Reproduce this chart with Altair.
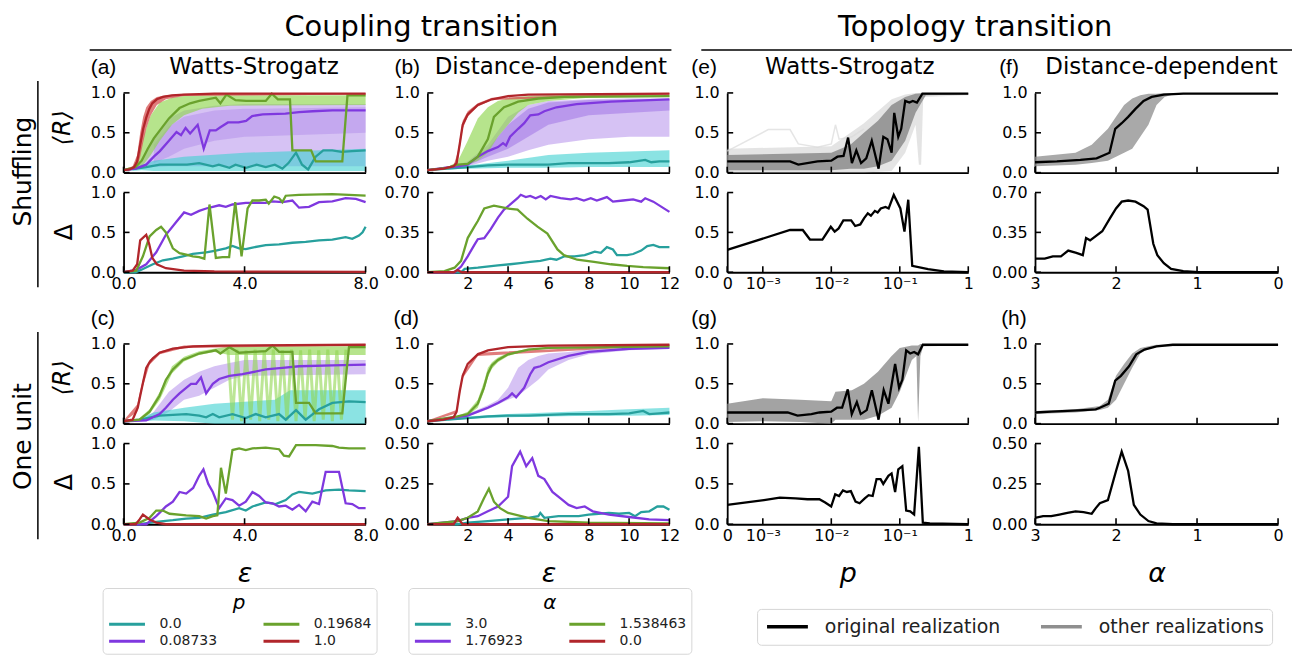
import altair as alt
import pandas as pd

# ============================ DATA ============================
# legend orders (Vega fills a 2-column vertical legend column by column)
P_ORDER = ["0.0", "0.08733", "0.19684", "1.0"]
A_ORDER = ["3.0", "1.76923", "1.538463", "0.0"]
REAL_ORDER = ["original realization", "other realizations"]

# ---------- (a) Shuffling, Watts-Strogatz, coupling:  <R> ----------
a_R_red = [(0, 0.03), (0.2, 0.04), (0.35, 0.07), (0.45, 0.14), (0.55, 0.35), (0.65, 0.55), (0.75, 0.69),
           (0.85, 0.8), (0.95, 0.87), (1.1, 0.92), (1.3, 0.95), (1.6, 0.97), (2.0, 0.98), (3.0, 0.99), (8.0, 0.99)]
a_R_green = [(0, 0.03), (0.4, 0.07), (0.6, 0.15), (0.8, 0.3), (1.0, 0.43), (1.2, 0.53), (1.5, 0.68), (1.85, 0.81),
             (2.2, 0.87), (2.5, 0.9), (3.05, 0.94), (3.2, 0.87), (3.4, 0.98), (3.7, 0.91), (4.05, 0.9), (4.4, 0.9),
             (4.7, 0.9), (4.9, 0.99), (5.1, 0.92), (5.5, 0.92), (5.58, 0.28), (6.2, 0.28), (6.35, 0.14),
             (7.23, 0.14), (7.4, 0.97), (8.0, 0.97)]
a_R_purple = [(0, 0.03), (0.4, 0.05), (0.75, 0.1), (1.0, 0.2), (1.2, 0.27), (1.5, 0.4), (1.75, 0.51), (1.9, 0.47),
              (2.05, 0.56), (2.2, 0.49), (2.45, 0.6), (2.65, 0.3), (2.85, 0.53), (3.05, 0.53), (3.2, 0.57),
              (3.45, 0.63), (3.8, 0.63), (4.05, 0.65), (4.25, 0.71), (4.6, 0.73), (5.35, 0.74), (5.8, 0.76),
              (6.25, 0.77), (6.9, 0.78), (8.0, 0.78)]
a_R_teal = [(0, 0.03), (0.4, 0.05), (0.75, 0.07), (1.2, 0.1), (1.6, 0.1), (2.1, 0.1), (2.5, 0.12), (2.95, 0.08),
            (3.15, 0.1), (3.5, 0.06), (3.7, 0.1), (4.05, 0.06), (4.4, 0.1), (4.7, 0.07), (5.0, 0.1), (5.25, 0.05),
            (5.45, 0.12), (5.7, 0.25), (5.9, 0.1), (6.1, 0.04), (6.35, 0.2), (6.6, 0.28), (6.9, 0.28),
            (7.2, 0.26), (7.55, 0.27), (8.0, 0.28)]
a_R_red_band = [(0, 0.02, 0.04), (0.3, 0.04, 0.08), (0.45, 0.08, 0.22), (0.55, 0.2, 0.5), (0.65, 0.38, 0.7),
                (0.75, 0.55, 0.82), (0.9, 0.72, 0.9), (1.1, 0.85, 0.95), (1.4, 0.92, 0.97), (2.0, 0.96, 0.99),
                (8.0, 0.98, 1.0)]
a_R_green_band = [(0.3, 0.04, 0.06), (0.5, 0.06, 0.2), (0.7, 0.12, 0.5), (0.9, 0.22, 0.72), (1.2, 0.4, 0.88),
                  (1.6, 0.6, 0.94), (2.0, 0.72, 0.96), (2.6, 0.8, 0.97), (3.5, 0.84, 0.97), (8.0, 0.85, 0.97)]
a_R_purple_band = [(0.4, 0.04, 0.07), (0.7, 0.06, 0.25), (1.0, 0.07, 0.45), (1.5, 0.08, 0.68), (2.0, 0.08, 0.78),
                   (3.0, 0.08, 0.84), (4.0, 0.08, 0.86), (8.0, 0.08, 0.86)]
a_R_purple_core = [(1.0, 0.12, 0.35), (1.5, 0.2, 0.58), (2.0, 0.3, 0.7), (3.0, 0.4, 0.78), (4.0, 0.45, 0.8),
                   (8.0, 0.5, 0.82)]
a_R_teal_band = [(0.3, 0.02, 0.05), (0.6, 0.03, 0.1), (1.0, 0.02, 0.15), (2.0, 0.02, 0.2), (4.0, 0.02, 0.25),
                 (8.0, 0.02, 0.3)]
# ---------- (a) Delta ----------
a_D_red = [(0, 0), (0.3, 0.02), (0.45, 0.1), (0.55, 0.4), (0.75, 0.47), (0.85, 0.35), (0.95, 0.18), (1.1, 0.1),
           (1.4, 0.05), (2.0, 0.02), (3.0, 0.01), (8.0, 0.005)]
a_D_green = [(0, 0), (0.42, 0.02), (0.64, 0.2), (0.86, 0.45), (1.08, 0.53), (1.24, 0.57), (1.4, 0.5), (1.63, 0.3),
             (1.85, 0.24), (2.07, 0.22), (2.29, 0.2), (2.5, 0.19), (2.67, 0.17), (2.84, 0.85), (3.05, 0.18),
             (3.27, 0.19), (3.49, 0.19), (3.69, 0.88), (3.9, 0.2), (4.1, 0.8), (4.26, 0.9), (4.48, 0.9),
             (4.7, 0.91), (4.8, 0.86), (4.98, 0.95), (5.14, 0.93), (5.25, 0.88), (5.36, 0.96), (5.8, 0.97),
             (6.9, 0.98), (8.0, 0.96)]
a_D_purple = [(0, 0), (0.42, 0.03), (0.75, 0.1), (1.08, 0.25), (1.4, 0.47), (1.74, 0.63), (2.0, 0.75),
              (2.23, 0.72), (2.5, 0.77), (2.73, 0.8), (2.95, 0.82), (3.16, 0.84), (3.38, 0.82), (3.6, 0.85),
              (4.04, 0.87), (4.7, 0.87), (4.92, 0.89), (5.25, 0.88), (5.58, 0.9), (5.8, 0.81), (6.13, 0.82),
              (6.46, 0.88), (6.9, 0.89), (7.34, 0.93), (7.68, 0.92), (8.0, 0.88)]
a_D_teal = [(0, 0), (0.4, 0.0), (0.64, 0.04), (0.97, 0.1), (1.3, 0.15), (1.63, 0.17), (1.96, 0.2), (2.29, 0.23),
            (2.73, 0.25), (3.05, 0.27), (3.38, 0.3), (3.6, 0.33), (3.82, 0.3), (4.04, 0.29), (4.26, 0.31),
            (4.7, 0.34), (5.14, 0.35), (5.58, 0.37), (6.02, 0.38), (6.46, 0.4), (6.9, 0.41), (7.34, 0.44),
            (7.56, 0.42), (7.78, 0.46), (7.9, 0.5), (8.0, 0.57)]

# ---------- (b) Shuffling, distance-dependent, coupling: <R> ----------
b_R_red = [(0, 0.03), (0.8, 0.05), (1.3, 0.08), (1.45, 0.12), (1.6, 0.35), (1.75, 0.6), (2.0, 0.73), (2.5, 0.85),
           (3.2, 0.92), (4.0, 0.96), (5.0, 0.98), (12, 0.99)]
b_R_green = [(0, 0.03), (1.0, 0.06), (1.5, 0.1), (2.0, 0.11), (2.5, 0.2), (3.0, 0.42), (3.3, 0.7), (3.8, 0.82),
             (4.5, 0.89), (5.5, 0.93), (6.8, 0.95), (12, 0.96)]
b_R_purple = [(0, 0.03), (1.5, 0.08), (2.0, 0.1), (2.5, 0.2), (3.0, 0.27), (3.5, 0.32), (3.75, 0.37), (3.9, 0.34),
              (4.1, 0.45), (4.5, 0.55), (4.8, 0.62), (5.1, 0.72), (5.5, 0.73), (5.8, 0.77), (6.4, 0.82),
              (7.4, 0.86), (9.1, 0.89), (12, 0.92)]
b_R_teal = [(0, 0.03), (1, 0.05), (2, 0.07), (3, 0.09), (4, 0.1), (5, 0.1), (6, 0.1), (7, 0.12), (8, 0.12),
            (9, 0.12), (10, 0.13), (10.8, 0.16), (11.1, 0.13), (11.5, 0.14), (12, 0.14)]
b_R_red_band = [(0, 0.02, 0.04), (1.3, 0.07, 0.09), (1.5, 0.12, 0.25), (1.75, 0.55, 0.65), (2.0, 0.7, 0.77),
                (2.5, 0.83, 0.87), (3.2, 0.91, 0.94), (12, 0.98, 1.0)]
b_R_green_band = [(1.0, 0.05, 0.07), (1.5, 0.08, 0.14), (2.0, 0.1, 0.4), (2.5, 0.15, 0.68), (3.0, 0.25, 0.82),
                  (3.5, 0.45, 0.9), (4.0, 0.6, 0.93), (4.5, 0.75, 0.95), (5.0, 0.85, 0.96), (6.0, 0.9, 0.97),
                  (8.0, 0.94, 0.97), (12, 0.95, 0.97)]
b_R_purple_band = [(1.5, 0.06, 0.1), (2.0, 0.08, 0.14), (3.0, 0.15, 0.35), (4.0, 0.2, 0.7), (5.0, 0.28, 0.85),
                   (6.0, 0.35, 0.9), (8.0, 0.42, 0.92), (10.0, 0.45, 0.93), (12, 0.45, 0.93)]
b_R_purple_core = [(2.0, 0.09, 0.12), (3.0, 0.2, 0.3), (4.0, 0.3, 0.6), (5.0, 0.45, 0.8), (6.0, 0.6, 0.88),
                   (8.0, 0.72, 0.91), (12, 0.78, 0.92)]
b_R_teal_band = [(1.0, 0.04, 0.06), (2.0, 0.05, 0.09), (4.0, 0.06, 0.15), (6.0, 0.06, 0.22), (8.0, 0.07, 0.25),
                 (12, 0.07, 0.28)]
# ---------- (b) Delta ----------
b_D_red = [(0, 0), (1.3, 0.0), (1.5, 0.02), (1.7, 0.0), (12, 0.0)]
b_D_green = [(0, 0), (0.85, 0.01), (1.35, 0.04), (1.67, 0.1), (2.0, 0.3), (2.33, 0.4), (2.5, 0.45), (2.82, 0.56),
             (3.3, 0.585), (3.97, 0.56), (4.47, 0.55), (4.96, 0.47), (5.46, 0.4), (5.95, 0.34), (6.45, 0.2),
             (6.77, 0.15), (7.43, 0.11), (8.26, 0.09), (9.1, 0.07), (9.9, 0.055), (10.7, 0.045), (12, 0.035)]
b_D_purple = [(0, 0), (1.35, 0.0), (1.67, 0.05), (2.0, 0.14), (2.33, 0.24), (2.5, 0.29), (2.82, 0.3), (3.15, 0.38),
              (3.5, 0.48), (3.8, 0.55), (4.14, 0.6), (4.47, 0.65), (4.63, 0.68), (4.88, 0.66), (5.1, 0.67),
              (5.37, 0.65), (5.62, 0.67), (5.87, 0.64), (6.1, 0.67), (6.6, 0.65), (7.1, 0.64), (7.4, 0.65),
              (7.76, 0.63), (8.1, 0.65), (8.4, 0.63), (8.9, 0.66), (9.2, 0.62), (9.7, 0.63), (10.2, 0.64),
              (10.6, 0.62), (10.8, 0.65), (11.2, 0.62), (12, 0.53)]
b_D_teal = [(0, 0), (1.67, 0.0), (1.85, 0.03), (2.5, 0.04), (3.5, 0.06), (4.1, 0.07), (4.6, 0.08), (5.1, 0.09),
            (5.6, 0.1), (6.1, 0.12), (6.4, 0.11), (6.8, 0.14), (7.3, 0.14), (7.8, 0.15), (8.3, 0.18), (8.6, 0.17),
            (8.9, 0.22), (9.2, 0.2), (9.4, 0.15), (9.9, 0.15), (10.2, 0.16), (10.6, 0.19), (10.9, 0.23),
            (11.2, 0.24), (11.5, 0.22), (12, 0.22)]

# ---------- (c) One unit, Watts-Strogatz, coupling: <R> ----------
c_R_red = [(0, 0.03), (0.3, 0.05), (0.47, 0.2), (0.55, 0.35), (0.64, 0.51), (0.75, 0.7), (0.86, 0.77),
           (0.97, 0.82), (1.19, 0.89), (1.63, 0.94), (2.3, 0.97), (3.2, 0.98), (8, 0.99)]
c_R_green = [(0, 0.03), (0.53, 0.05), (0.86, 0.15), (1.19, 0.35), (1.4, 0.55), (1.63, 0.68), (1.96, 0.8),
             (2.5, 0.88), (3.05, 0.92), (3.2, 0.88), (3.5, 0.96), (3.82, 0.89), (4.26, 0.9), (4.7, 0.91),
             (4.92, 0.98), (5.14, 0.9), (5.58, 0.9), (5.7, 0.26), (6.13, 0.26), (6.35, 0.13), (7.23, 0.13),
             (7.45, 0.96), (8, 0.96)]
c_R_green_zigzag = [(3.45, 0.93), (3.6, 0.05), (3.75, 0.93), (3.9, 0.03), (4.05, 0.92), (4.2, 0.05), (4.35, 0.93),
                    (4.5, 0.03), (4.65, 0.92), (4.8, 0.05), (4.95, 0.93), (5.1, 0.03), (5.25, 0.92), (5.4, 0.04),
                    (5.55, 0.93), (5.7, 0.03), (5.85, 0.92), (6.0, 0.05), (6.15, 0.93), (6.3, 0.03), (6.45, 0.92),
                    (6.6, 0.05), (6.75, 0.93), (6.9, 0.03), (7.05, 0.92), (7.2, 0.05), (7.35, 0.93)]
c_R_purple = [(0, 0.03), (0.75, 0.04), (1.19, 0.12), (1.4, 0.2), (1.63, 0.3), (1.85, 0.38), (2.07, 0.45),
              (2.23, 0.5), (2.4, 0.5), (2.56, 0.58), (2.73, 0.38), (2.95, 0.5), (3.16, 0.56), (3.5, 0.6),
              (3.93, 0.62), (4.7, 0.68), (5.25, 0.7), (5.8, 0.72), (6.9, 0.73), (8, 0.74)]
c_R_teal = [(0, 0.03), (0.53, 0.05), (1.19, 0.1), (2.07, 0.12), (2.5, 0.1), (2.73, 0.08), (2.95, 0.12),
            (3.16, 0.08), (3.6, 0.12), (4.04, 0.07), (4.37, 0.12), (4.7, 0.08), (5.14, 0.12), (5.36, 0.05),
            (5.7, 0.17), (6.02, 0.05), (6.46, 0.18), (6.9, 0.26), (7.45, 0.28), (8, 0.27)]
c_R_red_band = [(0, 0.02, 0.04), (0.45, 0.15, 0.24), (0.64, 0.47, 0.56), (0.86, 0.74, 0.8), (1.2, 0.87, 0.91),
                (2.0, 0.95, 0.98), (8, 0.98, 1.0)]
c_R_green_band = [(0.5, 0.04, 0.06), (0.86, 0.12, 0.18), (1.2, 0.3, 0.4), (1.6, 0.63, 0.72), (2.0, 0.78, 0.84),
                  (2.5, 0.86, 0.91), (3.0, 0.9, 0.94), (3.5, 0.86, 0.97), (8, 0.86, 0.97)]
c_R_purple_band = [(0.7, 0.03, 0.06), (1.0, 0.05, 0.15), (1.5, 0.15, 0.4), (2.0, 0.3, 0.55), (2.5, 0.35, 0.65),
                   (3.0, 0.45, 0.72), (3.5, 0.55, 0.76), (4.0, 0.6, 0.8), (8, 0.62, 0.8)]
c_R_teal_band = [(0.5, 0.03, 0.06), (1.0, 0.04, 0.14), (2.0, 0.03, 0.2), (3.0, 0.0, 0.25), (5.0, 0.0, 0.3),
                 (5.5, 0.0, 0.42), (8.0, 0.0, 0.42)]
# ---------- (c) Delta ----------
c_D_red = [(0, 0), (0.4, 0.0), (0.53, 0.06), (0.64, 0.12), (0.86, 0.06), (1.08, 0.02), (1.4, 0.0), (8, 0.0)]
c_D_green = [(0, 0), (0.53, 0.02), (0.86, 0.08), (1.08, 0.17), (1.3, 0.17), (1.52, 0.13), (2.07, 0.11), (2.5, 0.1),
             (2.73, 0.07), (2.95, 0.1), (3.1, 0.11), (3.22, 0.7), (3.38, 0.38), (3.6, 0.92), (3.82, 0.94),
             (4.04, 0.92), (4.26, 0.94), (4.7, 0.95), (5.14, 0.93), (5.3, 0.85), (5.47, 0.84), (5.7, 0.98),
             (6.35, 0.98), (6.9, 0.97), (7.12, 0.95), (7.45, 0.94), (8, 0.94)]
c_D_purple = [(0, 0), (0.75, 0.0), (1.08, 0.1), (1.4, 0.22), (1.63, 0.28), (1.85, 0.4), (2.07, 0.38), (2.3, 0.45),
              (2.5, 0.6), (2.64, 0.68), (2.8, 0.5), (2.95, 0.4), (3.16, 0.2), (3.38, 0.32), (3.6, 0.3),
              (3.82, 0.23), (4.04, 0.28), (4.26, 0.4), (4.48, 0.35), (4.7, 0.27), (4.92, 0.26), (5.14, 0.22),
              (5.36, 0.23), (5.58, 0.18), (5.8, 0.24), (6.02, 0.16), (6.24, 0.28), (6.46, 0.25), (6.68, 0.65),
              (7.12, 0.65), (7.34, 0.26), (7.56, 0.25), (7.78, 0.2), (8, 0.2)]
c_D_teal = [(0, 0), (0.53, 0.0), (1.08, 0.03), (1.63, 0.05), (2.07, 0.07), (2.5, 0.08), (2.95, 0.12), (3.38, 0.15),
            (3.82, 0.2), (4.04, 0.17), (4.26, 0.22), (4.7, 0.27), (5.03, 0.25), (5.36, 0.3), (5.58, 0.37),
            (5.8, 0.4), (6.24, 0.38), (6.68, 0.42), (7.12, 0.43), (7.45, 0.42), (8, 0.41)]

# ---------- (d) One unit, distance-dependent, coupling: <R> ----------
d_R_red = [(0, 0.03), (0.8, 0.05), (1.3, 0.08), (1.45, 0.15), (1.6, 0.4), (1.75, 0.6), (2.0, 0.75), (2.5, 0.87),
           (3.0, 0.92), (4.0, 0.96), (6.0, 0.98), (12, 0.99)]
d_R_green = [(0, 0.03), (1.5, 0.09), (2.0, 0.12), (2.5, 0.25), (2.8, 0.45), (3.0, 0.63), (3.2, 0.73), (3.5, 0.8),
             (4.0, 0.87), (5.0, 0.93), (6.0, 0.95), (12, 0.97)]
d_R_purple = [(0, 0.03), (2.0, 0.1), (2.5, 0.15), (3.0, 0.2), (3.5, 0.26), (4.0, 0.33), (4.2, 0.38), (4.4, 0.33),
              (4.8, 0.45), (5.1, 0.62), (5.3, 0.7), (5.6, 0.72), (6.0, 0.77), (7.0, 0.85), (8.0, 0.9), (10, 0.94),
              (12, 0.95)]
d_R_teal = [(0, 0.03), (1, 0.05), (2, 0.07), (3, 0.09), (4, 0.1), (5, 0.1), (6, 0.11), (7, 0.12), (8, 0.12),
            (9, 0.12), (10, 0.13), (10.7, 0.16), (11, 0.12), (11.5, 0.13), (12, 0.14)]
d_R_red_band = [(0, 0.02, 0.04), (1.45, 0.13, 0.17), (1.75, 0.57, 0.63), (2.5, 0.85, 0.89), (12, 0.98, 1.0)]
d_R_green_band = [(1.5, 0.08, 0.1), (2, 0.1, 0.15), (2.5, 0.2, 0.3), (2.8, 0.4, 0.52), (3.0, 0.58, 0.7),
                  (3.2, 0.69, 0.77), (3.5, 0.77, 0.83), (4, 0.85, 0.89), (5, 0.92, 0.94), (6, 0.94, 0.96),
                  (12, 0.96, 0.98)]
d_R_purple_band = [(2.0, 0.09, 0.12), (3.0, 0.18, 0.23), (3.5, 0.24, 0.3), (4.0, 0.3, 0.45), (4.5, 0.35, 0.7),
                   (5.0, 0.45, 0.8), (5.5, 0.55, 0.85), (6.0, 0.68, 0.88), (7.0, 0.8, 0.9), (8.0, 0.87, 0.93),
                   (10, 0.92, 0.95), (12, 0.94, 0.96)]
d_R_teal_band = [(1, 0.04, 0.06), (2, 0.06, 0.09), (4, 0.08, 0.12), (6, 0.09, 0.14), (8, 0.1, 0.16),
                 (10, 0.1, 0.18), (12, 0.11, 0.2)]
# ---------- (d) Delta ----------
d_D_red = [(0, 0), (1.3, 0.0), (1.5, 0.04), (1.75, 0.0), (12, 0.0)]
d_D_green = [(0, 0), (1.5, 0.02), (2.0, 0.04), (2.5, 0.08), (2.8, 0.16), (3.05, 0.22), (3.3, 0.14), (3.6, 0.1),
             (4.0, 0.07), (5.0, 0.04), (6.0, 0.02), (8, 0.01), (12, 0.005)]
d_D_purple = [(0, 0), (1.5, 0.02), (2.0, 0.04), (2.5, 0.05), (3.0, 0.08), (3.5, 0.11), (4.0, 0.17), (4.2, 0.36),
              (4.6, 0.45), (4.9, 0.36), (5.2, 0.41), (5.5, 0.3), (5.8, 0.28), (6.2, 0.2), (6.6, 0.16), (7.0, 0.12),
              (7.4, 0.1), (7.8, 0.11), (8.2, 0.08), (9.0, 0.06), (10, 0.045), (11, 0.03), (12, 0.025)]
d_D_teal = [(0, 0), (1.5, 0.0), (2, 0.01), (3, 0.02), (4, 0.03), (5, 0.04), (5.5, 0.05), (5.6, 0.07), (5.8, 0.04),
            (6.5, 0.05), (7, 0.05), (7.5, 0.05), (8, 0.06), (8.5, 0.065), (9, 0.07), (9.5, 0.065), (10, 0.07),
            (10.3, 0.05), (10.6, 0.075), (11, 0.08), (11.4, 0.11), (11.7, 0.11), (12, 0.09)]

# ---------- (e) Shuffling, Watts-Strogatz, topology (x = p) ----------
e_R_orig = [(0, 0.14), (0.0025, 0.14), (0.0033, 0.10), (0.0063, 0.14), (0.01, 0.15), (0.0123, 0.2),
            (0.0151, 0.21), (0.0176, 0.44), (0.02, 0.12), (0.0232, 0.28), (0.0272, 0.12), (0.0324, 0.18),
            (0.039, 0.4), (0.049, 0.05), (0.0575, 0.45), (0.066, 0.42), (0.076, 0.25), (0.083, 0.75),
            (0.095, 0.45), (0.105, 0.55), (0.12, 0.9), (0.138, 0.88), (0.155, 0.9), (0.178, 0.88),
            (0.214, 0.99), (1.0, 0.99)]
e_R_others_light = [(0, 0.0, 0.3), (0.01, 0.0, 0.33), (0.03, 0.0, 0.62), (0.076, 0.02, 0.92),
                    (0.12, 0.25, 0.98), (0.17, 0.6, 1.0), (0.19, 0.1, 1.0), (0.205, 0.1, 1.0), (0.22, 0.95, 1.0),
                    (1.0, 0.97, 1.0)]
e_R_others_faint = [(0, 0.27), (0.0012, 0.54), (0.0025, 0.54), (0.0033, 0.36), (0.0063, 0.32), (0.01, 0.36),
                    (0.0115, 0.6), (0.013, 0.42), (0.02, 0.45), (0.03, 0.55)]
e_R_others = [(0, 0.03, 0.22), (0.01, 0.03, 0.25), (0.019, 0.05, 0.35), (0.03, 0.05, 0.5), (0.048, 0.08, 0.65),
              (0.076, 0.15, 0.85), (0.12, 0.4, 0.95), (0.17, 0.75, 0.99), (0.24, 0.97, 1.0), (1.0, 0.98, 1.0)]
e_D_orig = [(0, 0.28), (0.0025, 0.53), (0.00383, 0.53), (0.00488, 0.41), (0.00741, 0.41), (0.00983, 0.57),
            (0.0112, 0.51), (0.0128, 0.55), (0.015, 0.65), (0.0195, 0.65), (0.0223, 0.58), (0.0265, 0.6),
            (0.0302, 0.68), (0.0341, 0.74), (0.0379, 0.71), (0.0433, 0.77), (0.0475, 0.75), (0.0528, 0.8),
            (0.0619, 0.82), (0.0688, 0.8), (0.0817, 0.97), (0.102, 0.8), (0.117, 0.51), (0.133, 0.91),
            (0.152, 0.08), (0.259, 0.04), (0.44, 0.01), (1.0, 0.0)]

# ---------- (f) Shuffling, distance-dependent, topology (x = alpha) ----------
f_R_orig = [(3.0, 0.13), (2.73, 0.14), (2.44, 0.16), (2.24, 0.18), (2.08, 0.25), (2.01, 0.55), (1.93, 0.62),
            (1.85, 0.7), (1.76, 0.8), (1.66, 0.9), (1.56, 0.95), (1.41, 0.98), (1.17, 0.99), (0, 0.99)]
f_R_others = [(3.0, 0.08, 0.2), (2.5, 0.1, 0.25), (2.3, 0.12, 0.35), (2.1, 0.15, 0.55), (2.0, 0.2, 0.7),
              (1.9, 0.25, 0.85), (1.8, 0.3, 0.93), (1.7, 0.45, 0.97), (1.6, 0.6, 0.99), (1.5, 0.85, 0.99),
              (1.4, 0.95, 1.0), (1.3, 0.98, 1.0), (1.0, 0.99, 1.0), (0, 0.99, 1.0)]
f_D_orig = [(3.0, 0.12), (2.88, 0.12), (2.78, 0.14), (2.68, 0.14), (2.59, 0.19), (2.49, 0.17), (2.41, 0.15),
            (2.37, 0.3), (2.32, 0.28), (2.17, 0.36), (2.07, 0.48), (2.0, 0.56), (1.93, 0.62), (1.85, 0.63),
            (1.76, 0.62), (1.66, 0.58), (1.61, 0.55), (1.54, 0.25), (1.49, 0.15), (1.41, 0.08), (1.32, 0.03),
            (1.17, 0.01), (0.98, 0.0), (0, 0.0)]

# ---------- (g) One unit, Watts-Strogatz, topology (x = p) ----------
g_R_orig = [(0, 0.14), (0.00231, 0.14), (0.00321, 0.1), (0.00512, 0.12), (0.00669, 0.14), (0.00996, 0.15),
            (0.0121, 0.2), (0.0144, 0.2), (0.0174, 0.43), (0.0199, 0.12), (0.0236, 0.27), (0.0269, 0.12),
            (0.0329, 0.17), (0.0391, 0.42), (0.049, 0.05), (0.0582, 0.42), (0.0682, 0.25), (0.0855, 0.75),
            (0.0977, 0.45), (0.109, 0.55), (0.124, 0.92), (0.142, 0.88), (0.162, 0.9), (0.185, 0.87),
            (0.217, 0.99), (1.0, 0.99)]
g_R_others = [(0, 0.02, 0.25), (0.001, 0.03, 0.32), (0.0035, 0.02, 0.3), (0.01, 0.0, 0.28), (0.0115, 0.05, 0.4),
              (0.02, 0.05, 0.42), (0.03, 0.05, 0.5), (0.048, 0.1, 0.65), (0.076, 0.2, 0.85), (0.1, 0.4, 0.95),
              (0.15, 0.8, 0.98), (0.175, 0.85, 0.98), (0.185, 0.02, 0.98), (0.2, 0.85, 1.0), (0.22, 0.97, 1.0),
              (1.0, 0.98, 1.0)]
g_D_orig = [(0, 0.24), (0.00104, 0.3), (0.00177, 0.33), (0.00301, 0.32), (0.00448, 0.31), (0.00669, 0.31),
            (0.00815, 0.27), (0.00996, 0.22), (0.0114, 0.37), (0.013, 0.35), (0.0148, 0.42), (0.0169, 0.4),
            (0.0193, 0.41), (0.0226, 0.28), (0.0259, 0.26), (0.0308, 0.32), (0.0351, 0.36), (0.0402, 0.35),
            (0.0458, 0.56), (0.0524, 0.56), (0.0574, 0.5), (0.0682, 0.6), (0.0759, 0.63), (0.0855, 0.4),
            (0.0951, 0.68), (0.109, 0.72), (0.124, 0.17), (0.142, 0.16), (0.162, 0.12), (0.19, 0.96),
            (0.217, 0.02), (0.275, 0.01), (1.0, 0.0)]

# ---------- (h) One unit, distance-dependent, topology (x = alpha) ----------
h_R_orig = [(3, 0.14), (2.8, 0.15), (2.6, 0.16), (2.4, 0.17), (2.25, 0.18), (2.2, 0.2), (2.09, 0.25),
            (2.01, 0.54), (1.94, 0.6), (1.84, 0.72), (1.75, 0.87), (1.65, 0.93), (1.5, 0.97), (1.3, 0.99),
            (0, 0.99)]
h_R_others = [(3, 0.12, 0.16), (2.5, 0.14, 0.18), (2.2, 0.17, 0.22), (2.1, 0.2, 0.3), (2.0, 0.3, 0.6),
              (1.9, 0.5, 0.75), (1.8, 0.7, 0.88), (1.7, 0.88, 0.95), (1.6, 0.94, 0.97), (1.5, 0.97, 0.99),
              (0, 0.98, 1.0)]
h_D_orig = [(3, 0.04), (2.9, 0.05), (2.8, 0.05), (2.7, 0.06), (2.6, 0.07), (2.5, 0.08), (2.4, 0.075),
            (2.3, 0.065), (2.25, 0.1), (2.2, 0.13), (2.1, 0.15), (2.0, 0.33), (1.93, 0.45), (1.85, 0.33),
            (1.78, 0.12), (1.7, 0.06), (1.6, 0.02), (1.5, 0.005), (1.3, 0.0), (0, 0.0)]

# tick positions
WS_C_TICKS = [0, 4, 8]
DD_C_TICKS = [2, 4, 6, 8, 10, 12]
WS_T_TICKS = [0, 0.001, 0.01, 0.1, 1]
DD_T_TICKS = [3, 2, 1, 0]

# ============================ STYLE ============================
TEAL, PURPLE, GREEN, RED = "#27a09d", "#7f38df", "#6aa22d", "#b1262b"
TEAL_L, PURPLE_L, GREEN_L, RED_L = "#3ed0d0", "#a377e6", "#8fd64f", "#d65252"
FONT = "DejaVu Sans"
U_LIN, U_MAX = 0.52, 3.52
U_EXPR = f"datum.x <= 0.001 ? datum.x / 0.001 * {U_LIN} : log(datum.x) / LN10 + {U_MAX}"
WS_T_AXIS_VALUES = [0, U_LIN, U_LIN + 1, U_LIN + 2, U_MAX]
WS_T_LABELS = ("datum.value < 0.1 ? '0' : datum.value < 1 ? '10\u207b\u00b3' : "
               "datum.value < 2 ? '10\u207b\u00b2' : datum.value < 3 ? '10\u207b\u00b9' : '1'")

COLS_W = [243, 6, 243, 2, 242, 11, 244]
ROWS_H = [80, 80, 32, 80, 81]


def base(df, kind):
    ch = alt.Chart(df)
    if kind == "ws_t":
        ch = ch.transform_calculate(u=U_EXPR)
    return ch


def x_enc(kind, labels, title):
    field = "u:Q" if kind == "ws_t" else "x:Q"
    ax = dict(labels=labels, title=title, titleFont=FONT, titleFontStyle="italic", titleFontSize=27,
              titleFontWeight="normal", titleColor="black", titlePadding=17)
    if kind == "ws_c":
        sc = alt.Scale(domain=[0, 8], nice=False, zero=False)
        ax.update(values=WS_C_TICKS, format=".1f")
    elif kind == "dd_c":
        sc = alt.Scale(domain=[0, 12], nice=False, zero=False)
        ax.update(values=DD_C_TICKS, format="d")
    elif kind == "ws_t":
        sc = alt.Scale(domain=[0, U_MAX], nice=False, zero=False)
        ax.update(values=WS_T_AXIS_VALUES, labelExpr=WS_T_LABELS)
    else:
        sc = alt.Scale(domain=[0, 3], nice=False, zero=False, reverse=True)
        ax.update(values=DD_T_TICKS, format="d")
    return alt.X(field, scale=sc, axis=alt.Axis(**ax))


def ticks_for(kind):
    return {"ws_c": WS_C_TICKS, "dd_c": DD_C_TICKS, "ws_t": WS_T_TICKS, "dd_t": DD_T_TICKS}[kind]


def txt(s, x, y, size, font=FONT, angle=0, align="center", baseline="alphabetic", style="normal"):
    return alt.Chart(pd.DataFrame({"t": [s]})).mark_text(
        text=s, fontSize=size, font=font, angle=angle, align=align, baseline=baseline,
        fontStyle=style, color="black").encode(x=alt.value(x), y=alt.value(y))


def rule(x1, y1, x2, y2, w=1.5, color="black"):
    return alt.Chart(pd.DataFrame({"t": [0]})).mark_rule(color=color, strokeWidth=w).encode(
        x=alt.value(x1), x2=alt.value(x2), y=alt.value(y1), y2=alt.value(y2))


def panel(kind, ymax, yticks, yfmt, bands, lines, domain, rng, w, h, xlabels, xtitle=None,
          legend=None, extra_lines=(), extras=()):
    ys = alt.Scale(domain=[0, ymax], nice=False, zero=True)
    yax = alt.Axis(values=yticks, format=yfmt, title=None)
    X = x_enc(kind, xlabels, xtitle)
    Y = alt.Y("y:Q", scale=ys, axis=yax)
    layers = []
    for pts, col, op in bands:
        d = pd.DataFrame(pts, columns=["x", "lo", "hi"])
        layers.append(base(d, kind).mark_area(color=col, opacity=op).encode(
            x=X, y=alt.Y("lo:Q", scale=ys, axis=yax), y2="hi:Q"))
    for pts, col, op, sw in extra_lines:
        d = pd.DataFrame(pts, columns=["x", "y"])
        layers.append(base(d, kind).mark_line(color=col, opacity=op, strokeWidth=sw).encode(x=X, y=Y))
    frames = []
    for name, pts in lines:
        d = pd.DataFrame(pts, columns=["x", "y"])
        d["s"] = name
        frames.append(d)
    ld = pd.concat(frames, ignore_index=True)
    layers.append(base(ld, kind).mark_line(strokeWidth=2.3).encode(
        x=X, y=Y, detail="s:N",
        color=alt.Color("s:N", scale=alt.Scale(domain=domain, range=rng), legend=legend)))
    # inward tick marks
    layers.append(base(pd.DataFrame({"x": ticks_for(kind)}), kind).mark_rule(color="black", strokeWidth=1.6)
                  .encode(x=X, y=alt.value(h), y2=alt.value(h - 6)))
    layers.append(alt.Chart(pd.DataFrame({"y": yticks})).mark_rule(color="black", strokeWidth=1.6)
                  .encode(y=Y, x=alt.value(0), x2=alt.value(6)))
    layers.extend(extras)
    return alt.layer(*layers).properties(width=w, height=h)


def spacer(w, h):
    return alt.Chart(pd.DataFrame({"v": [0]})).mark_point(opacity=0).encode(
        x=alt.X("v:Q", axis=None), y=alt.Y("v:Q", axis=None)).properties(width=w, height=h)


P_RANGE = [TEAL, PURPLE, GREEN, RED]
A_RANGE = [TEAL, PURPLE, GREEN, RED]
REAL_RANGE = ["black", "#8f8f8f"]


def p_lines(teal, purple, green, red, order):
    return [(order[0], teal), (order[1], purple), (order[2], green), (order[3], red)]


def coupling_bands(teal, purple, green, red, extra=()):
    return [(purple, PURPLE_L, 0.45), *extra, (teal, TEAL_L, 0.6), (green, GREEN_L, 0.65), (red, RED_L, 0.75)]


def legend_box(title, lx, ly, colpad):
    return alt.Legend(orient="none", legendX=lx, legendY=ly, title=title, titleFont=FONT, titleFontSize=20,
                      titleFontStyle="italic", titleFontWeight="normal", titleColor="black", titleAnchor="middle",
                      titlePadding=4, columns=2, columnPadding=colpad, rowPadding=2, clipHeight=15,
                      symbolType="stroke", symbolSize=1296, symbolStrokeWidth=3, labelOffset=13,
                      labelFont=FONT, labelFontSize=14, labelColor="#222222", labelLimit=200, padding=5,
                      strokeColor="#d6d6d6", fillColor="white", cornerRadius=4)


real_legend = alt.Legend(orient="none", legendX=30, legendY=166, title=None, direction="horizontal", columns=2,
                         columnPadding=38, clipHeight=20, symbolType="stroke", symbolSize=1681,
                         symbolStrokeWidth=3.5, labelOffset=15, labelFont=FONT, labelFontSize=19,
                         labelColor="#222222", labelLimit=400, padding=8, strokeColor="#d6d6d6",
                         fillColor="white", cornerRadius=4)

W_A, W_B, W_E, W_F = COLS_W[0], COLS_W[2], COLS_W[4], COLS_W[6]
H_R1, H_D1, H_R2, H_D2 = ROWS_H[0], ROWS_H[1], ROWS_H[3], ROWS_H[4]

# ---------------- panels ----------------
pa_R = panel("ws_c", 1.0, [0, 0.5, 1.0], ".1f",
             coupling_bands(a_R_teal_band, a_R_purple_band, a_R_green_band, a_R_red_band,
                            extra=[(a_R_purple_core, PURPLE_L, 0.35)]),
             p_lines(a_R_teal, a_R_purple, a_R_green, a_R_red, P_ORDER), P_ORDER, P_RANGE, W_A, H_R1, False,
             extras=[
                 txt("Coupling transition", 299, -57, 29),
                 rule(-34, -43, 550, -43),
                 txt("(a)", -33, -19, 21, font="Liberation Sans", align="left"),
                 txt("Watts-Strogatz", 131, -19, 23),
                 txt("Shuffling", -101, 79, 25, angle=270, baseline="middle"),
                 rule(-86, -12, -86, 195),
                 txt("\u27e8R\u27e9", -61, 35, 24, angle=270, baseline="middle", style="italic"),
                 rule(-115.5, -83.5, -115.5, -83.5, w=1, color="white"),
             ])
pa_D = panel("ws_c", 1.0, [0, 0.5, 1.0], ".1f", [],
             p_lines(a_D_teal, a_D_purple, a_D_green, a_D_red, P_ORDER), P_ORDER, P_RANGE, W_A, H_D1, True,
             extras=[txt("\u0394", -59, 40, 24, angle=270, baseline="middle")])

pb_R = panel("dd_c", 1.0, [0, 0.5, 1.0], ".1f",
             coupling_bands(b_R_teal_band, b_R_purple_band, b_R_green_band, b_R_red_band,
                            extra=[(b_R_purple_core, PURPLE_L, 0.55)]),
             p_lines(b_R_teal, b_R_purple, b_R_green, b_R_red, A_ORDER), A_ORDER, A_RANGE, W_B, H_R1, False,
             extras=[txt("(b)", -33, -19, 21, font="Liberation Sans", align="left"),
                     txt("Distance-dependent", 124, -19, 23)])
pb_D = panel("dd_c", 0.70, [0, 0.35, 0.70], ".2f", [],
             p_lines(b_D_teal, b_D_purple, b_D_green, b_D_red, A_ORDER), A_ORDER, A_RANGE, W_B, H_D1, True)

pc_R = panel("ws_c", 1.0, [0, 0.5, 1.0], ".1f",
             coupling_bands(c_R_teal_band, c_R_purple_band, c_R_green_band, c_R_red_band),
             p_lines(c_R_teal, c_R_purple, c_R_green, c_R_red, P_ORDER), P_ORDER, P_RANGE, W_A, H_R2, False,
             extra_lines=[(c_R_green_zigzag, GREEN_L, 0.6, 3.0)],
             extras=[
                 txt("(c)", -33, -19, 21, font="Liberation Sans", align="left"),
                 txt("One unit", -101, 93, 25, angle=270, baseline="middle"),
                 rule(-86, -12, -86, 196),
                 txt("\u27e8R\u27e9", -61, 34, 24, angle=270, baseline="middle", style="italic"),
             ])
pc_D = panel("ws_c", 1.0, [0, 0.5, 1.0], ".1f", [],
             p_lines(c_D_teal, c_D_purple, c_D_green, c_D_red, P_ORDER), P_ORDER, P_RANGE, W_A, H_D2, True,
             xtitle="\u03b5", legend=legend_box("p", -21, 145, 45),
             extras=[txt("\u0394", -59, 39, 24, angle=270, baseline="middle")])

pd_R = panel("dd_c", 1.0, [0, 0.5, 1.0], ".1f",
             coupling_bands(d_R_teal_band, d_R_purple_band, d_R_green_band, d_R_red_band),
             p_lines(d_R_teal, d_R_purple, d_R_green, d_R_red, A_ORDER), A_ORDER, A_RANGE, W_B, H_R2, False,
             extras=[txt("(d)", -34, -19, 21, font="Liberation Sans", align="left")])
pd_D = panel("dd_c", 0.50, [0, 0.25, 0.50], ".2f", [],
             p_lines(d_D_teal, d_D_purple, d_D_green, d_D_red, A_ORDER), A_ORDER, A_RANGE, W_B, H_D2, True,
             xtitle="\u03b5", legend=legend_box("\u03b1", -19, 145, 45))

GREY_L, GREY = "#c4c4c4", "#8c8c8c"
pe_R = panel("ws_t", 1.0, [0, 0.5, 1.0], ".1f",
             [(e_R_others_light, GREY_L, 0.45), (e_R_others, GREY, 0.85)],
             [(REAL_ORDER[0], e_R_orig)], REAL_ORDER, REAL_RANGE, W_E, H_R1, False,
             extra_lines=[(e_R_others_faint, "#dadada", 0.7, 1.5)],
             extras=[txt("Topology transition", 249, -57, 29),
                     rule(-26, -43, 567, -43),
                     txt("(e)", -36, -19, 21, font="Liberation Sans", align="left"),
                     txt("Watts-Strogatz", 123, -19, 23)])
pe_D = panel("ws_t", 1.0, [0, 0.5, 1.0], ".1f", [],
             [(REAL_ORDER[0], e_D_orig)], REAL_ORDER, REAL_RANGE, W_E, H_D1, True)

pf_R = panel("dd_t", 1.0, [0, 0.5, 1.0], ".1f", [(f_R_others, GREY, 0.75)],
             [(REAL_ORDER[0], f_R_orig)], REAL_ORDER, REAL_RANGE, W_F, H_R1, False,
             extras=[txt("(f)", -36, -19, 21, font="Liberation Sans", align="left"),
                     txt("Distance-dependent", 127, -19, 23)])
pf_D = panel("dd_t", 0.70, [0, 0.35, 0.70], ".2f", [],
             [(REAL_ORDER[0], f_D_orig)], REAL_ORDER, REAL_RANGE, W_F, H_D1, True)

pg_R = panel("ws_t", 1.0, [0, 0.5, 1.0], ".1f", [(g_R_others, GREY, 0.8)],
             [(REAL_ORDER[0], g_R_orig)], REAL_ORDER, REAL_RANGE, W_E, H_R2, False,
             extras=[txt("(g)", -36, -19, 21, font="Liberation Sans", align="left")])
pg_D = panel("ws_t", 1.0, [0, 0.5, 1.0], ".1f", [],
             [(REAL_ORDER[0], g_D_orig)], REAL_ORDER, REAL_RANGE, W_E, H_D2, True,
             xtitle="p", legend=real_legend)

ph_R = panel("dd_t", 1.0, [0, 0.5, 1.0], ".1f", [(h_R_others, GREY, 0.75)],
             [(REAL_ORDER[0], h_R_orig)], REAL_ORDER, REAL_RANGE, W_F, H_R2, False,
             extras=[txt("(h)", -34, -19, 21, font="Liberation Sans", align="left")])
ph_D = panel("dd_t", 0.50, [0, 0.25, 0.50], ".2f", [],
             [(REAL_ORDER[0], h_D_orig)], REAL_ORDER, REAL_RANGE, W_F, H_D2, True,
             xtitle="\u03b1")

grid = {
    (0, 0): pa_R, (0, 2): pb_R, (0, 4): pe_R, (0, 6): pf_R,
    (1, 0): pa_D, (1, 2): pb_D, (1, 4): pe_D, (1, 6): pf_D,
    (3, 0): pc_R, (3, 2): pd_R, (3, 4): pg_R, (3, 6): ph_R,
    (4, 0): pc_D, (4, 2): pd_D, (4, 4): pg_D, (4, 6): ph_D,
}
cells = []
for r in range(len(ROWS_H)):
    for c in range(len(COLS_W)):
        cells.append(grid.get((r, c), spacer(COLS_W[c], ROWS_H[r])))

chart = alt.concat(*cells, columns=len(COLS_W), spacing={"row": 20, "column": 28},
                   bounds="flush", align="each").resolve_scale(
    color="independent", x="independent", y="independent"
).properties(padding=0, background="white").configure_view(strokeWidth=0).configure_axis(
    labelFont=FONT, labelFontSize=16, labelColor="black", domainColor="black", domainWidth=1.8,
    ticks=False, tickSize=0, grid=False, labelFlush=False, labelOverlap=False
).configure_axisX(labelPadding=3).configure_axisY(labelPadding=8)

chart.save("out.html", embed_options={"renderer": "svg", "actions": False})
